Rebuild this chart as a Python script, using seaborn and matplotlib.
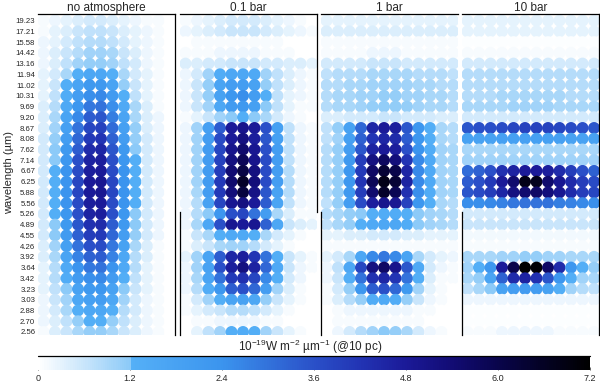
import numpy as np
import pandas as pd
import matplotlib
matplotlib.use("Agg")
import matplotlib.pyplot as plt
import seaborn as sns
from matplotlib.colors import LinearSegmentedColormap, Normalize
from matplotlib.cm import ScalarMappable

wavelengths = ["19.23", "17.21", "15.58", "14.42", "13.16", "11.94", "11.02", "10.31",
               "9.69", "9.20", "8.67", "8.08", "7.62", "7.14", "6.67", "6.25", "5.88",
               "5.56", "5.26", "4.89", "4.55", "4.26", "3.92", "3.64", "3.42", "3.23",
               "3.03", "2.88", "2.70", "2.56"]
panel_titles = ["no atmosphere", "0.1 bar", "1 bar", "10 bar"]
cbar_ticks = [0, 1.2, 2.4, 3.6, 4.8, 6.0, 7.2]
cbar_labels = ["0", "1.2", "2.4", "3.6", "4.8", "6.0", "7.2"]

# flux per dot, rows top (19.23 um) to bottom (2.56 um), 12 columns per panel
no_atm = [
    [0.1, 0.2, 0.3, 0.4, 0.5, 0.5, 0.4, 0.3, 0.2, 0.1, 0.1, 0.0],
    [0.1, 0.3, 0.4, 0.6, 0.7, 0.7, 0.6, 0.4, 0.3, 0.2, 0.1, 0.0],
    [0.2, 0.3, 0.5, 0.7, 0.8, 0.8, 0.7, 0.5, 0.3, 0.2, 0.1, 0.0],
    [0.2, 0.4, 0.6, 0.8, 1.0, 1.0, 0.9, 0.6, 0.4, 0.2, 0.1, 0.0],
    [0.2, 0.4, 0.7, 1.0, 1.1, 1.1, 1.0, 0.7, 0.5, 0.2, 0.1, 0.0],
    [0.3, 0.5, 0.9, 1.3, 1.6, 1.6, 1.3, 0.9, 0.5, 0.3, 0.1, 0.0],
    [0.3, 0.6, 1.3, 1.7, 2.2, 2.2, 1.7, 1.1, 0.6, 0.3, 0.1, 0.0],
    [0.3, 0.7, 1.4, 2.0, 2.5, 2.6, 2.1, 1.3, 0.7, 0.3, 0.1, 0.0],
    [0.4, 0.8, 1.5, 2.3, 2.9, 3.0, 2.5, 1.5, 0.9, 0.4, 0.1, 0.0],
    [0.4, 0.9, 1.7, 2.6, 3.4, 3.5, 2.8, 1.7, 0.9, 0.4, 0.2, 0.0],
    [0.4, 1.0, 1.9, 3.0, 3.8, 3.9, 3.1, 1.9, 1.1, 0.4, 0.2, 0.0],
    [0.5, 1.1, 2.0, 3.2, 4.1, 4.2, 3.3, 2.0, 1.1, 0.5, 0.2, 0.0],
    [0.5, 1.2, 2.2, 3.4, 4.4, 4.5, 3.5, 2.2, 1.2, 0.5, 0.2, 0.0],
    [0.5, 1.2, 2.3, 3.6, 4.6, 4.7, 3.6, 2.3, 1.3, 0.5, 0.2, 0.0],
    [0.5, 1.3, 2.4, 3.7, 4.7, 4.8, 3.7, 2.4, 1.3, 0.5, 0.2, 0.0],
    [0.5, 1.3, 2.4, 3.8, 4.8, 4.9, 3.8, 2.4, 1.3, 0.5, 0.2, 0.0],
    [0.5, 1.3, 2.4, 3.8, 4.8, 4.9, 3.8, 2.4, 1.3, 0.5, 0.2, 0.0],
    [0.5, 1.3, 2.4, 3.7, 4.7, 4.8, 3.7, 2.4, 1.3, 0.5, 0.2, 0.0],
    [0.5, 1.3, 2.3, 3.6, 4.6, 4.7, 3.6, 2.3, 1.2, 0.5, 0.2, 0.0],
    [0.5, 1.2, 2.2, 3.5, 4.3, 4.4, 3.4, 2.2, 1.2, 0.5, 0.2, 0.0],
    [0.5, 1.2, 2.1, 3.3, 4.0, 4.1, 3.2, 2.0, 1.1, 0.5, 0.2, 0.0],
    [0.4, 1.0, 1.9, 3.0, 3.6, 3.7, 2.9, 1.8, 0.9, 0.4, 0.1, 0.0],
    [0.4, 0.9, 1.7, 2.7, 3.3, 3.4, 2.7, 1.6, 0.8, 0.4, 0.1, 0.0],
    [0.3, 0.8, 1.5, 2.4, 2.9, 3.0, 2.4, 1.5, 0.8, 0.3, 0.1, 0.0],
    [0.3, 0.8, 1.4, 2.1, 2.5, 2.6, 2.1, 1.3, 0.7, 0.3, 0.1, 0.0],
    [0.3, 0.7, 1.2, 1.8, 2.2, 2.3, 1.8, 1.2, 0.6, 0.3, 0.1, 0.0],
    [0.2, 0.6, 1.0, 1.6, 1.9, 2.0, 1.6, 1.0, 0.5, 0.2, 0.1, 0.0],
    [0.2, 0.5, 0.9, 1.3, 1.6, 1.6, 1.3, 0.8, 0.5, 0.2, 0.1, 0.0],
    [0.2, 0.4, 0.7, 1.1, 1.3, 1.3, 1.1, 0.7, 0.4, 0.2, 0.1, 0.0],
    [0.1, 0.4, 0.6, 0.9, 1.1, 1.1, 0.9, 0.6, 0.4, 0.2, 0.1, 0.0],
]

bar_01 = [
    [0.1, 0.2, 0.3, 0.4, 0.5, 0.5, 0.5, 0.4, 0.3, 0.2, 0.1, 0.0],
    [0.2, 0.3, 0.4, 0.5, 0.6, 0.6, 0.6, 0.5, 0.4, 0.3, 0.2, 0.1],
    [0.0, 0.1, 0.1, 0.1, 0.1, 0.1, 0.1, 0.1, 0.1, 0.0, 0.0, 0.0],
    [0.1, 0.1, 0.1, 0.2, 0.2, 0.2, 0.2, 0.1, 0.1, 0.1, 0.0, 0.0],
    [0.4, 0.4, 0.5, 0.5, 0.6, 0.6, 0.6, 0.5, 0.5, 0.4, 0.4, 0.3],
    [0.2, 0.5, 1.0, 1.4, 1.6, 1.6, 1.5, 1.0, 0.7, 0.4, 0.2, 0.1],
    [0.2, 0.6, 1.1, 1.7, 2.0, 2.0, 1.8, 1.1, 0.7, 0.4, 0.2, 0.1],
    [0.2, 0.6, 1.1, 1.8, 2.3, 2.5, 2.0, 1.3, 0.7, 0.3, 0.2, 0.1],
    [0.2, 0.6, 1.0, 1.6, 2.1, 2.2, 1.9, 1.2, 0.7, 0.3, 0.1, 0.1],
    [0.1, 0.3, 0.6, 1.0, 1.2, 1.3, 1.2, 0.9, 0.5, 0.2, 0.1, 0.0],
    [0.2, 1.0, 1.9, 3.4, 4.8, 5.0, 4.8, 3.6, 1.9, 0.7, 0.2, 0.1],
    [0.2, 1.0, 2.0, 3.7, 4.8, 5.2, 4.7, 3.5, 1.9, 0.7, 0.2, 0.1],
    [0.2, 1.0, 2.1, 3.8, 5.0, 5.5, 4.9, 3.6, 2.0, 0.7, 0.2, 0.1],
    [0.2, 1.0, 2.1, 3.9, 5.2, 5.8, 5.0, 3.7, 2.0, 0.7, 0.2, 0.1],
    [0.2, 1.0, 2.1, 4.0, 5.4, 6.1, 5.2, 3.7, 2.0, 0.8, 0.2, 0.1],
    [0.2, 1.0, 2.1, 4.1, 5.5, 6.5, 5.3, 3.7, 2.0, 0.8, 0.2, 0.1],
    [0.2, 0.9, 2.0, 4.1, 5.3, 6.2, 5.1, 3.5, 1.8, 0.8, 0.2, 0.1],
    [0.2, 0.8, 1.8, 3.8, 4.9, 5.2, 4.8, 3.4, 1.7, 0.7, 0.2, 0.1],
    [0.2, 0.8, 1.2, 2.3, 3.6, 3.8, 3.0, 2.0, 0.9, 0.4, 0.1, 0.1],
    [0.2, 0.9, 1.6, 3.6, 4.9, 4.8, 4.9, 3.3, 1.6, 0.6, 0.4, 0.3],
    [0.1, 0.6, 0.9, 1.3, 1.5, 1.5, 1.3, 0.9, 0.5, 0.3, 0.1, 0.0],
    [0.1, 0.4, 0.6, 0.9, 1.0, 1.0, 0.8, 0.5, 0.3, 0.1, 0.0, 0.0],
    [0.3, 1.0, 1.7, 3.4, 4.5, 4.7, 4.2, 3.0, 1.3, 0.6, 0.3, 0.1],
    [0.2, 1.0, 1.8, 3.6, 4.7, 5.2, 4.6, 3.2, 1.5, 0.6, 0.2, 0.1],
    [0.2, 0.9, 1.7, 3.0, 4.1, 4.3, 3.8, 2.6, 1.3, 0.5, 0.2, 0.0],
    [0.2, 0.8, 1.4, 2.3, 3.4, 3.6, 3.2, 2.0, 1.0, 0.4, 0.1, 0.0],
    [0.1, 0.5, 1.0, 1.3, 1.7, 1.8, 1.6, 1.1, 0.6, 0.3, 0.1, 0.0],
    [0.1, 0.3, 0.5, 0.6, 0.8, 0.8, 0.7, 0.5, 0.3, 0.1, 0.0, 0.0],
    [0.0, 0.1, 0.1, 0.2, 0.2, 0.2, 0.2, 0.1, 0.1, 0.0, 0.0, 0.0],
    [0.0, 0.3, 0.7, 1.0, 1.3, 1.4, 1.3, 1.0, 0.6, 0.3, 0.1, 0.0],
]

bar_1 = [
    [0.3, 0.3, 0.3, 0.3, 0.3, 0.3, 0.3, 0.3, 0.3, 0.3, 0.3, 0.3],
    [0.4, 0.4, 0.4, 0.4, 0.4, 0.4, 0.4, 0.4, 0.4, 0.4, 0.4, 0.4],
    [0.1, 0.1, 0.1, 0.1, 0.1, 0.1, 0.1, 0.1, 0.1, 0.1, 0.1, 0.1],
    [0.1, 0.1, 0.1, 0.1, 0.2, 0.2, 0.2, 0.1, 0.1, 0.1, 0.1, 0.1],
    [0.5, 0.5, 0.5, 0.5, 0.6, 0.6, 0.6, 0.5, 0.5, 0.5, 0.5, 0.5],
    [0.7, 0.8, 0.8, 0.8, 0.9, 0.9, 0.9, 0.9, 0.8, 0.8, 0.8, 0.7],
    [0.8, 0.8, 0.9, 0.9, 1.0, 1.0, 1.0, 1.0, 0.9, 0.9, 0.8, 0.8],
    [0.8, 0.9, 0.9, 1.0, 1.0, 1.1, 1.1, 1.0, 1.0, 0.9, 0.9, 0.8],
    [0.8, 0.9, 0.9, 1.0, 1.1, 1.15, 1.15, 1.1, 1.0, 0.9, 0.9, 0.8],
    [0.4, 0.4, 0.5, 0.5, 0.5, 0.6, 0.6, 0.5, 0.5, 0.5, 0.4, 0.4],
    [0.7, 1.1, 1.8, 3.2, 4.5, 4.8, 4.7, 3.5, 2.3, 1.3, 0.9, 0.8],
    [0.7, 1.0, 1.9, 3.3, 4.2, 4.5, 4.4, 3.4, 2.3, 1.3, 0.9, 0.8],
    [0.8, 1.1, 2.0, 3.5, 4.6, 4.8, 4.7, 3.6, 2.4, 1.4, 1.0, 0.9],
    [0.8, 1.1, 2.2, 4.0, 5.2, 5.7, 5.3, 4.2, 2.6, 1.5, 1.0, 0.9],
    [0.8, 1.1, 2.3, 4.1, 5.6, 6.3, 6.0, 4.5, 2.6, 1.5, 1.0, 0.9],
    [0.8, 1.1, 2.3, 4.2, 5.8, 6.8, 6.3, 4.6, 2.6, 1.5, 1.0, 0.9],
    [0.8, 1.1, 2.2, 4.0, 5.5, 6.5, 5.9, 4.3, 2.5, 1.4, 1.0, 0.9],
    [0.7, 1.1, 2.0, 3.7, 4.7, 5.0, 4.9, 3.9, 2.3, 1.3, 0.9, 0.8],
    [0.8, 0.9, 1.1, 1.2, 1.3, 1.4, 1.4, 1.3, 1.2, 1.0, 0.9, 0.8],
    [0.7, 0.9, 1.1, 1.3, 1.5, 1.6, 1.6, 1.4, 1.2, 1.0, 0.9, 0.8],
    [0.3, 0.3, 0.4, 0.4, 0.5, 0.5, 0.5, 0.4, 0.4, 0.3, 0.3, 0.3],
    [0.1, 0.1, 0.1, 0.1, 0.1, 0.1, 0.1, 0.1, 0.1, 0.1, 0.1, 0.1],
    [0.3, 0.5, 0.9, 1.6, 2.6, 2.9, 2.6, 1.7, 0.9, 0.5, 0.3, 0.2],
    [0.2, 0.7, 1.6, 3.8, 5.2, 5.6, 5.0, 3.5, 1.5, 0.5, 0.2, 0.1],
    [0.2, 0.6, 1.3, 3.0, 4.3, 4.5, 4.2, 3.0, 1.3, 0.4, 0.1, 0.1],
    [0.1, 0.5, 1.1, 2.3, 3.4, 3.6, 3.2, 2.2, 1.0, 0.3, 0.1, 0.0],
    [0.1, 0.4, 0.8, 1.1, 1.4, 1.5, 1.4, 1.1, 0.6, 0.2, 0.1, 0.0],
    [0.0, 0.1, 0.2, 0.2, 0.2, 0.2, 0.2, 0.2, 0.1, 0.1, 0.0, 0.0],
    [0.0, 0.1, 0.1, 0.1, 0.1, 0.1, 0.1, 0.1, 0.1, 0.0, 0.0, 0.0],
    [0.0, 0.2, 0.5, 0.8, 1.0, 1.2, 1.1, 0.9, 0.5, 0.2, 0.1, 0.0],
]

bar_10 = [
    [0.3, 0.3, 0.3, 0.3, 0.3, 0.3, 0.3, 0.3, 0.3, 0.3, 0.3, 0.3],
    [0.3, 0.3, 0.3, 0.3, 0.3, 0.3, 0.3, 0.3, 0.3, 0.3, 0.3, 0.3],
    [0.05, 0.05, 0.05, 0.05, 0.05, 0.05, 0.05, 0.05, 0.05, 0.05, 0.05, 0.05],
    [0.1, 0.1, 0.1, 0.1, 0.1, 0.1, 0.1, 0.1, 0.1, 0.1, 0.1, 0.1],
    [0.5, 0.5, 0.5, 0.5, 0.5, 0.5, 0.5, 0.5, 0.5, 0.5, 0.5, 0.5],
    [0.8, 0.8, 0.8, 0.8, 0.8, 0.8, 0.8, 0.8, 0.8, 0.8, 0.8, 0.8],
    [0.8, 0.8, 0.8, 0.8, 0.8, 0.8, 0.8, 0.8, 0.8, 0.8, 0.8, 0.8],
    [0.8, 0.8, 0.8, 0.9, 0.9, 0.9, 0.9, 0.9, 0.9, 0.8, 0.8, 0.8],
    [0.9, 0.9, 0.9, 0.9, 1.0, 1.0, 1.0, 1.0, 0.9, 0.9, 0.9, 0.9],
    [0.5, 0.5, 0.5, 0.5, 0.5, 0.5, 0.5, 0.5, 0.5, 0.5, 0.5, 0.5],
    [3.5, 3.6, 3.6, 3.7, 3.8, 3.9, 3.9, 3.9, 3.8, 3.7, 3.6, 3.5],
    [1.8, 1.8, 1.8, 1.9, 1.9, 1.9, 1.9, 1.9, 1.9, 1.8, 1.8, 1.8],
    [0.9, 0.9, 0.9, 0.9, 0.9, 0.9, 0.9, 0.9, 0.9, 0.9, 0.9, 0.9],
    [1.0, 1.0, 1.0, 1.0, 1.0, 1.0, 1.0, 1.0, 1.0, 1.0, 1.0, 1.0],
    [3.1, 3.3, 3.6, 4.3, 4.6, 4.8, 4.8, 4.7, 4.4, 4.0, 3.6, 3.3],
    [3.4, 3.6, 4.1, 4.8, 5.5, 6.8, 6.7, 5.5, 4.9, 4.4, 4.0, 3.7],
    [3.5, 3.7, 4.0, 4.5, 5.2, 5.5, 5.6, 5.3, 4.9, 4.4, 4.0, 3.8],
    [2.5, 2.5, 2.6, 2.7, 2.9, 3.0, 3.0, 3.0, 2.8, 2.7, 2.6, 2.5],
    [0.5, 0.5, 0.5, 0.5, 0.5, 0.5, 0.5, 0.5, 0.5, 0.5, 0.5, 0.5],
    [0.6, 0.6, 0.6, 0.6, 0.6, 0.6, 0.6, 0.6, 0.6, 0.6, 0.6, 0.6],
    [0.15, 0.15, 0.15, 0.15, 0.15, 0.15, 0.15, 0.15, 0.15, 0.15, 0.15, 0.15],
    [0.1, 0.1, 0.1, 0.1, 0.1, 0.1, 0.1, 0.1, 0.1, 0.1, 0.1, 0.1],
    [0.9, 0.9, 0.9, 1.0, 1.0, 1.1, 1.1, 1.0, 1.0, 0.9, 0.9, 0.9],
    [1.0, 1.3, 2.3, 4.8, 6.0, 7.2, 7.1, 5.6, 4.4, 2.3, 1.3, 1.1],
    [0.9, 1.1, 1.7, 3.3, 4.4, 4.6, 4.3, 3.5, 2.3, 1.3, 1.0, 0.9],
    [0.7, 0.9, 1.2, 1.8, 2.0, 2.1, 2.0, 1.8, 1.3, 1.0, 0.8, 0.7],
    [0.2, 0.2, 0.2, 0.2, 0.2, 0.2, 0.2, 0.2, 0.2, 0.2, 0.2, 0.2],
    [0.05, 0.05, 0.05, 0.05, 0.05, 0.05, 0.05, 0.05, 0.05, 0.05, 0.05, 0.05],
    [0.05, 0.05, 0.05, 0.05, 0.05, 0.05, 0.05, 0.05, 0.05, 0.05, 0.05, 0.05],
    [0.1, 0.1, 0.1, 0.2, 0.2, 0.2, 0.2, 0.2, 0.1, 0.1, 0.1, 0.1],
]

panels = [no_atm, bar_01, bar_1, bar_10]

sns.set_style("white")
plt.rcParams['font.family'] = ['Liberation Sans', 'DejaVu Sans']
plt.rcParams['mathtext.default'] = 'regular'

vmax = 7.2
stops = [(0.0, '#ffffff'), (0.6, '#c8e5fb'), (1.19, '#8ccaf8'), (1.2, '#55b0f7'),
         (2.4, '#3b94ee'), (3.6, '#2a50c8'), (4.2, '#2234b4'), (4.8, '#1b1a98'),
         (5.4, '#120c74'), (6.0, '#09054c'), (6.6, '#040224'), (7.2, '#000000')]
cmap = LinearSegmentedColormap.from_list("flux", [(v / vmax, c) for v, c in stops])
norm = Normalize(0, vmax)

fig = plt.figure(figsize=(6, 3.84), dpi=100)
W, H = 600, 384
lefts = [38, 180, 321, 462]
top_px, bot_px, width_px = 14, 335, 137
n_rows = len(wavelengths)
ylo, yhi = -0.28, n_rows - 1 + 0.62
ybreak = 11.2

for k, (mat, title) in enumerate(zip(panels, panel_titles)):
    ax = fig.add_axes([lefts[k] / W, 1 - bot_px / H, width_px / W, (bot_px - top_px) / H])
    arr = np.array(mat)
    rows, cols = np.indices(arr.shape)
    df = pd.DataFrame({'col': cols.ravel(), 'row': (n_rows - 1 - rows).ravel(),
                       'flux': arr.ravel()})
    sns.scatterplot(data=df, x='col', y='row', hue='flux', palette=cmap, hue_norm=norm,
                    s=74, linewidth=0, legend=False, ax=ax)
    ax.set_xlim(-0.478, 11.43)
    ax.set_ylim(ylo, yhi)
    ax.set_xlabel('')
    ax.set_ylabel('')
    ax.set_xticks([])
    ax.set_title(title, fontsize=8.5, pad=1.5)
    for sp in ax.spines.values():
        sp.set_visible(False)
        sp.set_color('black')
        sp.set_linewidth(0.9)
    ax.spines['top'].set_visible(True)
    if k == 0:
        ax.spines['right'].set_visible(True)
        ax.set_yticks(range(n_rows))
        ax.set_yticklabels(wavelengths[::-1], fontsize=5.6)
        ax.tick_params(axis='y', length=0, pad=2)
    else:
        ax.set_yticks([])
        ax.spines['left'].set_visible(True)
        ax.spines['left'].set_bounds(ylo, ybreak)
        if k == 1:
            ax.spines['right'].set_visible(True)
            ax.spines['right'].set_bounds(ybreak, yhi)
        if k == 3:
            ax.spines['right'].set_visible(True)

fig.text(9 / W, 1 - 172 / H, 'wavelength (µm)', rotation=90, ha='center', va='center',
         fontsize=8)

cax = fig.add_axes([38 / W, 1 - 370 / H, 552 / W, 14 / H])
cb = fig.colorbar(ScalarMappable(norm=norm, cmap=cmap), cax=cax, orientation='horizontal')
cb.outline.set_visible(False)
cb.set_ticks(cbar_ticks)
cb.set_ticklabels(cbar_labels)
cax.tick_params(axis='x', labelsize=6.5, length=2, width=0.5, direction='in', pad=3)
cax.plot([0, 1], [1, 1], color='black', linewidth=0.9, transform=cax.transAxes, clip_on=False)
fig.text(310 / W, 1 - 347 / H, r'10$^{-19}$W m$^{-2}$ µm$^{-1}$ (@10 pc)',
         ha='center', va='center', fontsize=8.5)

fig.savefig("out.png", dpi=100)
